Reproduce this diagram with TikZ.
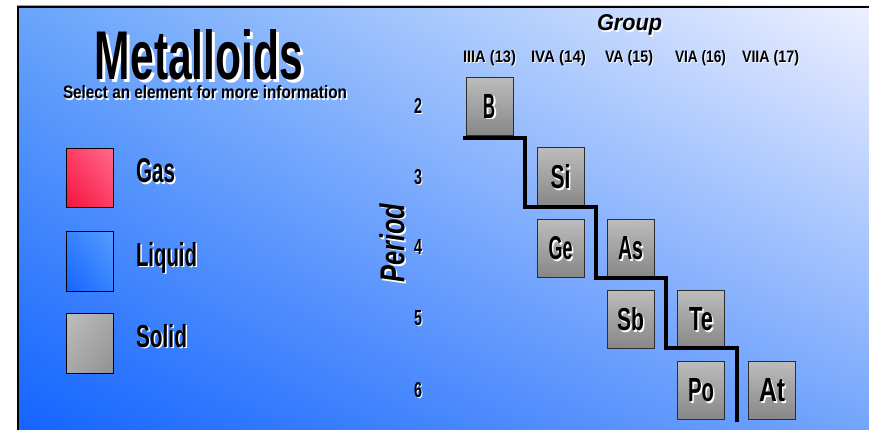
\documentclass[tikz,border=0pt]{standalone}
\usepackage{fontspec}
\setmainfont{Liberation Sans}
\usetikzlibrary{calc,shadings}
\definecolor{bgul}{RGB}{105,165,250}
\definecolor{bgur}{RGB}{238,240,255}
\definecolor{bgll}{RGB}{20,100,255}
\definecolor{bglr}{RGB}{115,165,252}
\definecolor{gasA}{RGB}{255,105,140}
\definecolor{gasB}{RGB}{240,20,60}
\definecolor{gasC}{RGB}{255,60,100}
\definecolor{liqA}{RGB}{85,155,255}
\definecolor{liqB}{RGB}{20,100,255}
\definecolor{liqC}{RGB}{55,130,255}
\definecolor{solA}{RGB}{190,190,190}
\definecolor{solB}{RGB}{145,145,145}
\definecolor{solC}{RGB}{168,168,168}
\definecolor{elTop}{RGB}{188,188,188}
\definecolor{elBot}{RGB}{135,135,135}
\definecolor{elLine}{RGB}{45,45,45}
% text with a white drop shadow, in one box: width, height, text, x offset, y offset
\newcommand\shbox[5]{%
  \makebox[0pt][l]{\hspace*{#4pt}\smash{\raisebox{-#5pt}{\color{white}\resizebox{#1pt}{#2pt}{#3}}}}%
  \resizebox{#1pt}{#2pt}{#3}}
\newcommand\shtxt[7]{%
  \node[txt,anchor=#3] (#1) at (#2) {\shbox{#4}{#5}{#6}{#7}{#7}};}
\begin{document}
\begin{tikzpicture}[x=1pt,y=-1pt,
  txt/.style={inner sep=0pt,outer sep=0pt,text=black,font=\bfseries},
  elem/.style={draw=elLine,line width=1pt,minimum width=47pt,minimum height=58pt,inner sep=0pt,top color=elTop,bottom color=elBot},
  legbox/.style={draw=black,line width=1pt,minimum width=47pt,minimum height=59pt,inner sep=0pt},
  stair/.style={line width=4pt,black,line join=miter}]
\useasboundingbox (0,0) rectangle (869,430);
\fill[white] (0,0) rectangle (869,430);
\shade[upper left=bgul,upper right=bgur,lower left=bgll,lower right=bglr] (17,6) rectangle (869,430);
\draw[line width=2pt,black] (18,430) -- (18,7) -- (869,7);

% title
\shtxt{title}{199,80}{base}{208}{50}{Metalloids}{3}
\shtxt{sub}{205,99}{base}{284}{13}{Select an element for more information}{1.5}

% legend
\shade[upper left=gasC,upper right=gasA,lower left=gasB,lower right=gasC] (66,149) rectangle (113,208);
\node[legbox] (gasbox) at (89.5,178.5) {};
\shade[upper left=liqC,upper right=liqA,lower left=liqB,lower right=liqC] (66,232) rectangle (113,291);
\node[legbox] (liqbox) at (89.5,261.5) {};
\shade[upper left=solA,upper right=solC,lower left=solC,lower right=solB] (66,313) rectangle (113,373);
\node[legbox,minimum height=60pt] (solbox) at (89.5,343) {};
\shtxt{gas}{136,183}{base west}{39}{24}{Gas}{1.5}
\shtxt{liq}{136,266}{base west}{61}{24}{Liquid}{1.5}
\shtxt{sol}{136,347}{base west}{51}{23}{Solid}{1.5}

% group header
\shtxt{group}{629.5,31}{base}{65}{16}{\itshape Group}{1.5}
\shtxt{g13}{489.5,63}{base}{53}{12}{IIIA (13)}{1}
\shtxt{g14}{558.5,63}{base}{55}{12}{IVA (14)}{1}
\shtxt{g15}{629,63}{base}{48}{12}{VA (15)}{1}
\shtxt{g16}{700.5,63}{base}{51}{12}{VIA (16)}{1}
\shtxt{g17}{770.5,63}{base}{57}{12}{VIIA (17)}{1}

% period
\node[txt,rotate=90] (period) at (392,243) {\shbox{79}{25}{\itshape Period}{-1.5}{1.5}};
\shtxt{p2}{418,106}{center}{8}{15}{2}{1}
\shtxt{p3}{418,177}{center}{8}{15}{3}{1}
\shtxt{p4}{418,247}{center}{8}{15}{4}{1}
\shtxt{p5}{418,318}{center}{8}{15}{5}{1}
\shtxt{p6}{418,390}{center}{8}{15}{6}{1}

% elements
\node[elem] (bB)  at (489.5,106.5) {};
\node[elem] (bSi) at (560.5,177) {};
\node[elem] (bGe) at (560.5,248.5) {};
\node[elem] (bAs) at (630.5,248.5) {};
\node[elem] (bSb) at (630.5,319.5) {};
\node[elem] (bTe) at (701,319.5) {};
\node[elem] (bPo) at (701,390.5) {};
\node[elem] (bAt) at (772,390.5) {};
\shtxt{B}{bB.center}{center}{12}{24}{B}{1.5}
\shtxt{Si}{bSi.center}{center}{20}{24}{Si}{1.5}
\shtxt{Ge}{bGe.center}{center}{24}{23}{Ge}{1.5}
\shtxt{As}{bAs.center}{center}{25}{23}{As}{1.5}
\shtxt{Sb}{bSb.center}{center}{27}{23}{Sb}{1.5}
\shtxt{Te}{bTe.center}{center}{24}{23}{Te}{1.5}
\shtxt{Po}{bPo.center}{center}{26}{23}{Po}{1.5}
\shtxt{At}{bAt.center}{center}{26}{23}{At}{1.5}

% staircase
\coordinate (s0) at (463,138);
\coordinate (s1) at (525,138);
\coordinate (s2) at (525,207);
\coordinate (s3) at (596,207);
\coordinate (s4) at (596,278);
\coordinate (s5) at (666,278);
\coordinate (s6) at (666,348);
\coordinate (s7) at (737,348);
\coordinate (s8) at (737,422);
\draw[stair] (s0) -- (s1) -- (s2) -- (s3) -- (s4) -- (s5) -- (s6) -- (s7) -- (s8);
\end{tikzpicture}
\end{document}
